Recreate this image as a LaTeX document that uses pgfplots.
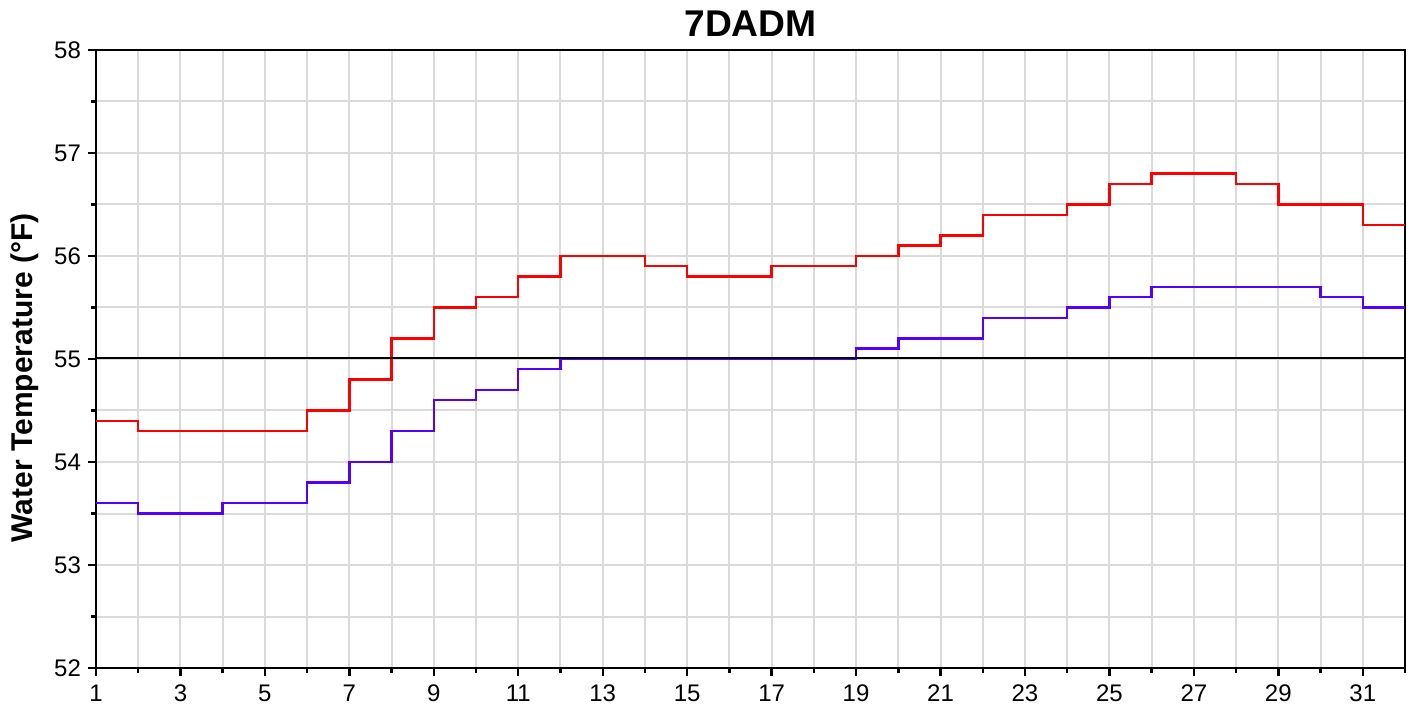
\documentclass[border=0pt]{standalone}
\usepackage{fontspec}
\setmainfont{Liberation Sans}
\usepackage{pgfplots}
\pgfplotsset{compat=1.18}
\definecolor{redline}{RGB}{255,0,0}
\definecolor{blueline}{RGB}{85,0,255}
\definecolor{gridgray}{RGB}{218,218,218}
\begin{document}
\begin{tikzpicture}[x=1pt,y=1pt]
\begin{axis}[
  name=ax,
  scale only axis,
  width=654.5pt, height=309pt,
  xmin=1, xmax=32, ymin=52, ymax=58,
  xtick={1,3,...,31},
  minor xtick={2,4,...,32},
  ytick={52,53,...,58},
  minor ytick={52.5,53.5,...,57.5},
  grid=both,
  major grid style={gridgray, line width=1pt},
  minor grid style={gridgray, line width=1pt},
  axis line style={black, line width=1.3pt},
  tick align=outside,
  xtick pos=left, ytick pos=left,
  major tick length=4pt,
  minor tick length=2.5pt,
  tick style={black, line width=1.2pt},
  /pgf/number format/assume math mode=true,
  tick label style={font=\fontsize{12}{14}\selectfont},
  xticklabel style={yshift=-1pt},
  title={\fontsize{18.6}{21}\selectfont\bfseries 7DADM},
  title style={yshift=-3pt},
  ylabel={\fontsize{15}{18}\selectfont\bfseries Water Temperature (°F)},
  ylabel style={yshift=1pt, xshift=-9.5pt},
  clip=true,
]
\addplot[const plot mark left, redline, line width=1.2pt] coordinates {
(1,54.4) (2,54.3) (3,54.3) (4,54.3) (5,54.3) (6,54.5) (7,54.8) (8,55.2)
(9,55.5) (10,55.6) (11,55.8) (12,56.0) (13,56.0) (14,55.9) (15,55.8) (16,55.8)
(17,55.9) (18,55.9) (19,56.0) (20,56.1) (21,56.2) (22,56.4) (23,56.4) (24,56.5)
(25,56.7) (26,56.8) (27,56.8) (28,56.7) (29,56.5) (30,56.5) (31,56.3) (32,56.3)
};
\addplot[const plot mark left, blueline, line width=1.2pt] coordinates {
(1,53.6) (2,53.5) (3,53.5) (4,53.6) (5,53.6) (6,53.8) (7,54.0) (8,54.3)
(9,54.6) (10,54.7) (11,54.9) (12,55.0) (13,55.0) (14,55.0) (15,55.0) (16,55.0)
(17,55.0) (18,55.0) (19,55.1) (20,55.2) (21,55.2) (22,55.4) (23,55.4) (24,55.5)
(25,55.6) (26,55.7) (27,55.7) (28,55.7) (29,55.7) (30,55.6) (31,55.5) (32,55.5)
};
\addplot[black, line width=1pt, yshift=0.5pt] coordinates {(1,55) (32,55)};
\end{axis}
\pgfresetboundingbox
\path[use as bounding box] ([xshift=-48pt, yshift=-21.5pt]ax.south west) rectangle ([xshift=5.5pt, yshift=25pt]ax.north east);
\end{tikzpicture}
\end{document}
